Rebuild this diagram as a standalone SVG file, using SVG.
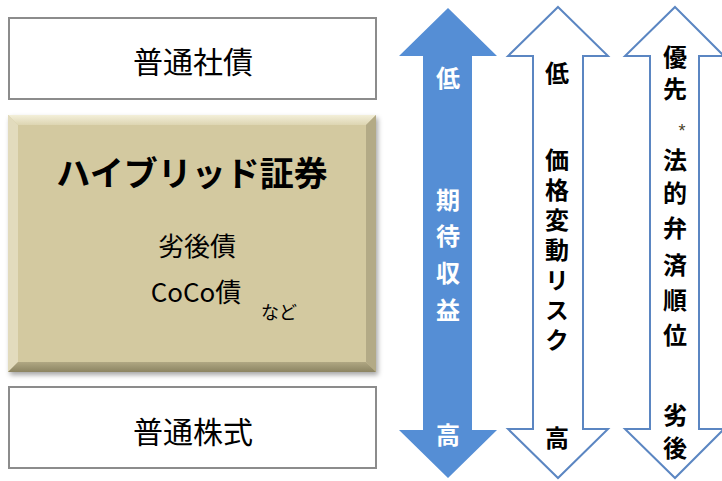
<svg xmlns="http://www.w3.org/2000/svg" width="722" height="481" viewBox="0 0 722 481">
<defs>
<style>
.box{fill:#fff;stroke:#8c8c8c;stroke-width:2}
.t{font-family:"Noto Sans CJK JP","Noto Sans",sans-serif;fill:#000;text-anchor:middle}
.v{font-family:"Noto Sans CJK JP",sans-serif;font-weight:bold;font-size:24px;text-anchor:middle}
.w{fill:#fff}
.k{fill:#000}
.oa{fill:#fff;stroke:#5b86c2;stroke-width:2;stroke-linejoin:miter}
</style>
<filter id="sh" x="-5%" y="-5%" width="115%" height="115%">
<feDropShadow dx="2" dy="3" stdDeviation="2.5" flood-color="#000" flood-opacity="0.35"/>
</filter>
<linearGradient id="bt" x1="0" y1="0" x2="0" y2="1"><stop offset="0" stop-color="#f3efd9"/><stop offset="1" stop-color="#ddd5b2"/></linearGradient>
<linearGradient id="bb" x1="0" y1="0" x2="0" y2="1"><stop offset="0" stop-color="#b0a783"/><stop offset="1" stop-color="#8c8462"/></linearGradient>
</defs>
<g id="n1">
<rect class="box" x="9" y="18" width="367" height="81"/>
<text class="t" x="193" y="73" font-size="30">普通社債</text>
</g>
<g id="n2">
<rect x="8" y="115" width="368" height="257" fill="#d3c9a0" filter="url(#sh)"/>
<polygon points="8,115 376,115 366,125 18,125" fill="url(#bt)"/>
<polygon points="8,115 18,125 18,362 8,372" fill="#e2dbbd"/>
<polygon points="376,115 376,372 366,362 366,125" fill="#b3aa86"/>
<polygon points="8,372 18,362 366,362 376,372" fill="url(#bb)"/>
<text class="t" x="192" y="186" font-size="34" font-weight="bold">ハイブリッド証券</text>
<text class="t" x="197" y="256" font-size="26">劣後債</text>
<text class="t" x="196" y="302" font-size="26" font-family="Liberation Sans,Noto Sans CJK JP,sans-serif">CoCo債</text>
<text class="t" x="279" y="319" font-size="18">など</text>
</g>
<g id="n3">
<rect class="box" x="9" y="387" width="367" height="81"/>
<text class="t" x="193" y="443" font-size="30">普通株式</text>
</g>
<g id="connectors">
<g id="a1">
<polygon points="448,8 497,56 472,56 472,430 497,430 448,478 399,430 423,430 423,56 399,56" fill="#558ed5"/>
<text class="v w" x="448" y="87">低</text>
<text class="v w" x="448" y="209">期</text>
<text class="v w" x="448" y="245">待</text>
<text class="v w" x="448" y="282">収</text>
<text class="v w" x="448" y="319">益</text>
<text class="v w" x="448" y="444">高</text>
</g>
<g id="a2">
<polygon class="oa" points="558,7 608,56 583,56 583,429 608,429 558,478 508,429 533,429 533,56 508,56"/>
<text class="v k" x="557" y="82">低</text>
<text class="v k" x="557" y="148" style="writing-mode:vertical-rl;text-anchor:start" letter-spacing="6">価格変動リスク</text>
<text class="v k" x="557" y="447">高</text>
</g>
<g id="a3">
<polygon class="oa" points="675,7 724,56 699,56 699,429 724,429 675,478 625,429 650,429 650,56 625,56"/>
<text class="v k" x="675" y="66">優</text>
<text class="v k" x="675" y="98">先</text>
<text x="682" y="137" font-family="Liberation Sans,sans-serif" font-size="18" fill="#4a4128" text-anchor="middle">*</text>
<text class="v k" x="675" y="169">法</text>
<text class="v k" x="675" y="202">的</text>
<text class="v k" x="675" y="237">弁</text>
<text class="v k" x="675" y="274">済</text>
<text class="v k" x="675" y="309">順</text>
<text class="v k" x="675" y="344">位</text>
<text class="v k" x="675" y="424">劣</text>
<text class="v k" x="675" y="457">後</text>
</g>
</g>
</svg>
